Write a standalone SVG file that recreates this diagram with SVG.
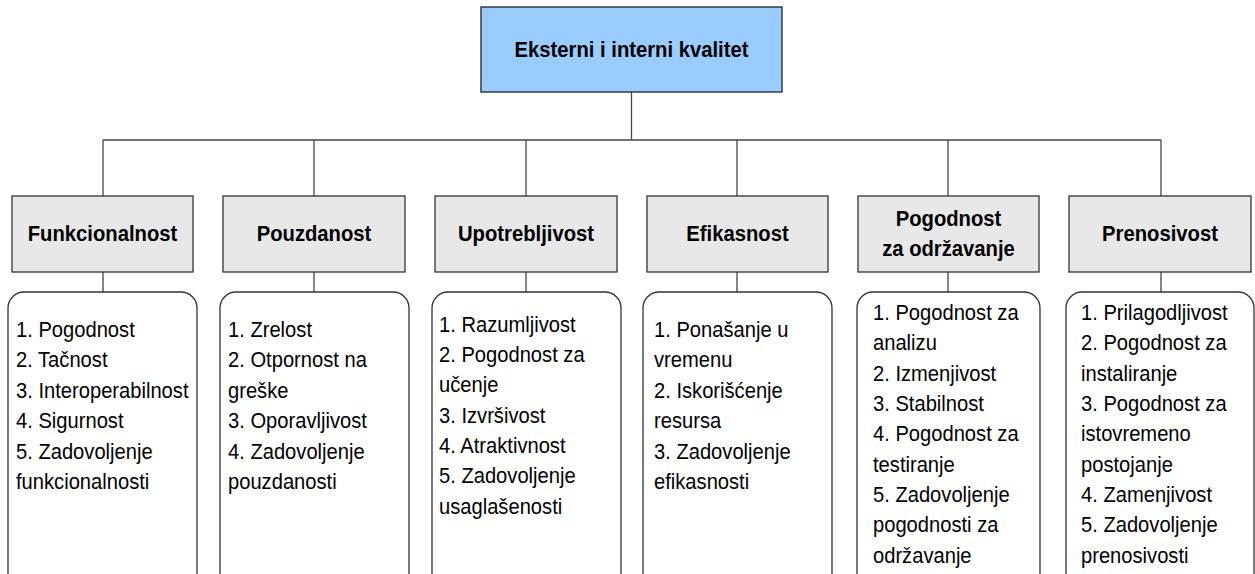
<svg xmlns="http://www.w3.org/2000/svg" width="1255" height="574" viewBox="0 0 1255 574">
<style>
.root{fill:#99CCFF;stroke:#222;stroke-width:1.3}
.cat{fill:#E8E8E8;stroke:#333;stroke-width:1.3}
.det{fill:#FFFFFF;stroke:#333;stroke-width:1.3}
.t{font-family:"Liberation Sans Narrow","Arial Narrow","Liberation Sans",Arial,sans-serif;fill:#000}
.h{font-size:22.5px;font-weight:bold;text-anchor:middle}
.d{font-size:22.4px}
.conn line{stroke:#444;stroke-width:1.3}
</style>
<rect width="1255" height="574" fill="#FFFFFF"/>
<g id="connectors" class="conn">
<line x1="631.5" y1="92" x2="631.5" y2="140"/>
<line x1="103" y1="140" x2="1161" y2="140"/>
<line x1="103" y1="140" x2="103" y2="196"/>
<line x1="314" y1="140" x2="314" y2="196"/>
<line x1="526" y1="140" x2="526" y2="196"/>
<line x1="737" y1="140" x2="737" y2="196"/>
<line x1="948" y1="140" x2="948" y2="196"/>
<line x1="1161" y1="140" x2="1161" y2="196"/>
<line x1="103" y1="272" x2="103" y2="292"/>
<line x1="314" y1="272" x2="314" y2="292"/>
<line x1="526" y1="272" x2="526" y2="292"/>
<line x1="737" y1="272" x2="737" y2="292"/>
<line x1="948" y1="272" x2="948" y2="292"/>
<line x1="1161" y1="272" x2="1161" y2="292"/>
</g>
<g id="root">
<rect class="root" x="481" y="7" width="301" height="85"/>
<text class="t h" transform="translate(631.5,57) scale(0.9,1)">Eksterni i interni kvalitet</text>
</g>
<g id="funkcionalnost">
<rect class="cat" x="12" y="196" width="181" height="76"/>
<text class="t h" transform="translate(102.5,241) scale(0.9,1)">Funkcionalnost</text>
</g>
<g id="pouzdanost">
<rect class="cat" x="223" y="196" width="182" height="76"/>
<text class="t h" transform="translate(314,241) scale(0.9,1)">Pouzdanost</text>
</g>
<g id="upotrebljivost">
<rect class="cat" x="435" y="196" width="182" height="76"/>
<text class="t h" transform="translate(526,241) scale(0.9,1)">Upotrebljivost</text>
</g>
<g id="efikasnost">
<rect class="cat" x="647" y="196" width="181" height="76"/>
<text class="t h" transform="translate(737.5,241) scale(0.9,1)">Efikasnost</text>
</g>
<g id="pogodnost-za-odrzavanje">
<rect class="cat" x="858" y="196" width="181" height="76"/>
<text class="t h" transform="translate(948.5,226) scale(0.9,1)">Pogodnost</text>
<text class="t h" transform="translate(948.5,256) scale(0.9,1)">za održavanje</text>
</g>
<g id="prenosivost">
<rect class="cat" x="1069" y="196" width="182" height="76"/>
<text class="t h" transform="translate(1160,241) scale(0.9,1)">Prenosivost</text>
</g>
<g id="funkcionalnost-detalji">
<rect class="det" x="8" y="292" width="189" height="300" rx="16"/>
<text class="t d" transform="translate(16,337) scale(0.9,1)">1. Pogodnost</text>
<text class="t d" transform="translate(16,367) scale(0.9,1)">2. Tačnost</text>
<text class="t d" transform="translate(16,398) scale(0.9,1)">3. Interoperabilnost</text>
<text class="t d" transform="translate(16,428) scale(0.9,1)">4. Sigurnost</text>
<text class="t d" transform="translate(16,459) scale(0.9,1)">5. Zadovoljenje</text>
<text class="t d" transform="translate(16,489) scale(0.9,1)">funkcionalnosti</text>
</g>
<g id="pouzdanost-detalji">
<rect class="det" x="220" y="292" width="189" height="300" rx="16"/>
<text class="t d" transform="translate(228,337) scale(0.9,1)">1. Zrelost</text>
<text class="t d" transform="translate(228,367) scale(0.9,1)">2. Otpornost na</text>
<text class="t d" transform="translate(228,398) scale(0.9,1)">greške</text>
<text class="t d" transform="translate(228,428) scale(0.9,1)">3. Oporavljivost</text>
<text class="t d" transform="translate(228,459) scale(0.9,1)">4. Zadovoljenje</text>
<text class="t d" transform="translate(228,489) scale(0.9,1)">pouzdanosti</text>
</g>
<g id="upotrebljivost-detalji">
<rect class="det" x="432" y="292" width="189" height="300" rx="16"/>
<text class="t d" transform="translate(439,332) scale(0.9,1)">1. Razumljivost</text>
<text class="t d" transform="translate(439,362) scale(0.9,1)">2. Pogodnost za</text>
<text class="t d" transform="translate(439,392) scale(0.9,1)">učenje</text>
<text class="t d" transform="translate(439,423) scale(0.9,1)">3. Izvršivost</text>
<text class="t d" transform="translate(439,453) scale(0.9,1)">4. Atraktivnost</text>
<text class="t d" transform="translate(439,483) scale(0.9,1)">5. Zadovoljenje</text>
<text class="t d" transform="translate(439,514) scale(0.9,1)">usaglašenosti</text>
</g>
<g id="efikasnost-detalji">
<rect class="det" x="643" y="292" width="189" height="300" rx="16"/>
<text class="t d" transform="translate(654,337) scale(0.9,1)">1. Ponašanje u</text>
<text class="t d" transform="translate(654,367) scale(0.9,1)">vremenu</text>
<text class="t d" transform="translate(654,398) scale(0.9,1)">2. Iskorišćenje</text>
<text class="t d" transform="translate(654,428) scale(0.9,1)">resursa</text>
<text class="t d" transform="translate(654,459) scale(0.9,1)">3. Zadovoljenje</text>
<text class="t d" transform="translate(654,489) scale(0.9,1)">efikasnosti</text>
</g>
<g id="pogodnost-za-odrzavanje-detalji">
<rect class="det" x="857" y="292" width="183" height="300" rx="16"/>
<text class="t d" transform="translate(873,320) scale(0.9,1)">1. Pogodnost za</text>
<text class="t d" transform="translate(873,350) scale(0.9,1)">analizu</text>
<text class="t d" transform="translate(873,381) scale(0.9,1)">2. Izmenjivost</text>
<text class="t d" transform="translate(873,411) scale(0.9,1)">3. Stabilnost</text>
<text class="t d" transform="translate(873,441) scale(0.9,1)">4. Pogodnost za</text>
<text class="t d" transform="translate(873,472) scale(0.9,1)">testiranje</text>
<text class="t d" transform="translate(873,502) scale(0.9,1)">5. Zadovoljenje</text>
<text class="t d" transform="translate(873,532) scale(0.9,1)">pogodnosti za</text>
<text class="t d" transform="translate(873,563) scale(0.9,1)">održavanje</text>
</g>
<g id="prenosivost-detalji">
<rect class="det" x="1066" y="292" width="188" height="300" rx="16"/>
<text class="t d" transform="translate(1081,320) scale(0.9,1)">1. Prilagodljivost</text>
<text class="t d" transform="translate(1081,350) scale(0.9,1)">2. Pogodnost za</text>
<text class="t d" transform="translate(1081,381) scale(0.9,1)">instaliranje</text>
<text class="t d" transform="translate(1081,411) scale(0.9,1)">3. Pogodnost za</text>
<text class="t d" transform="translate(1081,441) scale(0.9,1)">istovremeno</text>
<text class="t d" transform="translate(1081,472) scale(0.9,1)">postojanje</text>
<text class="t d" transform="translate(1081,502) scale(0.9,1)">4. Zamenjivost</text>
<text class="t d" transform="translate(1081,532) scale(0.9,1)">5. Zadovoljenje</text>
<text class="t d" transform="translate(1081,563) scale(0.9,1)">prenosivosti</text>
</g>
</svg>
